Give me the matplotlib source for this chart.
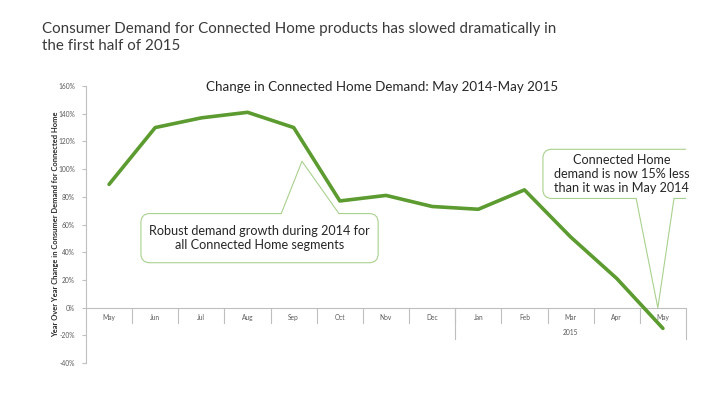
import matplotlib
matplotlib.use("Agg")
import matplotlib.pyplot as plt
from matplotlib.patches import FancyBboxPatch, Polygon
import numpy as np

months = ["May", "Jun", "Jul", "Aug", "Sep", "Oct", "Nov", "Dec",
          "Jan", "Feb", "Mar", "Apr", "May"]
demand_change = [89, 130, 137, 141, 130, 77, 81, 73, 71, 85, 51, 21, -15]
year_groups = [("", 0, 7), ("2015", 8, 12)]
yticks = [-40, -20, 0, 20, 40, 60, 80, 100, 120, 140, 160]

main_title = ["Consumer Demand for Connected Home products has slowed dramatically in",
              "the first half of 2015"]
chart_title = "Change in Connected Home Demand: May 2014-May 2015"
ylabel = "Year Over Year Change in Consumer Demand for Connected Home"
callout1 = "Robust demand growth during 2014 for\nall Connected Home segments"
callout2 = "Connected Home\ndemand is now 15% less\nthan it was in May 2014"

FONT = ["Lato", "DejaVu Sans"]
plt.rcParams["font.family"] = FONT

LINE = "#5b9b2f"
EDGE = "#a9d18e"
GRAY = "#bfbfbf"
TXT = "#595959"

W, H = 706, 397
fig = plt.figure(figsize=(W / 100, H / 100), dpi=100)
ax = fig.add_axes([86 / W, 1 - 363 / H, 600 / W, 277 / H])
renderer = fig.canvas.get_renderer()

x = np.arange(len(months))
ax.plot(x, demand_change, color=LINE, lw=2.6, solid_joinstyle="round",
        solid_capstyle="round", zorder=6, clip_on=False)

ax.set_xlim(-0.5, len(months) - 0.5)
ax.set_ylim(-40, 160)
ax.set_yticks(yticks)
ax.set_yticklabels([f"{v}%" for v in yticks], fontsize=4.8, color=TXT)
ax.tick_params(axis="y", length=3, width=0.8, color=GRAY, pad=5)
ax.set_xticks([])
for s in ["top", "right", "bottom"]:
    ax.spines[s].set_visible(False)
ax.spines["left"].set_color(GRAY)
ax.spines["left"].set_linewidth(0.8)

# category axis at 0
ax.axhline(0, color=GRAY, lw=0.8, zorder=2)
for i, m in enumerate(months):
    ax.text(i, -7.5, m, ha="center", va="center", fontsize=4.8, color=TXT)
for b in np.arange(0.5, len(months) - 0.5, 1.0):
    ax.plot([b, b], [0, -11], color=GRAY, lw=0.8, clip_on=False, zorder=2)
for name, a, bnd in year_groups:
    if name:
        ax.plot([a - 0.5, a - 0.5], [0, -22.7], color=GRAY, lw=0.8, clip_on=False)
        ax.plot([bnd + 0.5, bnd + 0.5], [0, -22.7], color=GRAY, lw=0.8, clip_on=False)
        ax.text((a + bnd) / 2, -18.3, name, ha="center", va="center",
                fontsize=4.8, color=TXT)

ax.set_ylabel(ylabel, fontsize=5.4, fontweight="bold", color="#262626", labelpad=4)
ax.yaxis.set_label_coords(-27 / 600, 0.5)

# main title: two lines, first line fitted to the reference width
t1 = fig.text(42 / W, 1 - 33.5 / H, main_title[0], fontsize=13, color="#3a3a3a",
              ha="left", va="baseline")
w = t1.get_window_extent(renderer).width
fs = 13 * 513 / w
t1.set_fontsize(fs)
fig.text(42 / W, 1 - 50.5 / H, main_title[1], fontsize=fs, color="#3a3a3a",
         ha="left", va="baseline")

fig.text(382 / W, 1 - 87 / H, chart_title, fontsize=9.6, color="#262626",
         ha="center", va="center")

# callouts (box in data units, wedge tip/base)
px_x = 600 / 13.0         # pixels per category
px_y = 277 / 200.0        # pixels per percent


def callout(x0, x1, y0, y1, tip, base, text, fs):
    r = 9
    box = FancyBboxPatch((x0, y0), x1 - x0, y1 - y0,
                         boxstyle=f"round,pad=0,rounding_size={r / px_x}",
                         mutation_aspect=px_x / px_y,
                         fc="white", ec=EDGE, lw=0.8, zorder=4)
    ax.add_patch(box)
    yb = base[2]
    inside = -1.5 if yb == y1 else 1.5
    poly = Polygon([(base[0], yb + inside), (base[0], yb), tip, (base[1], yb),
                    (base[1], yb + inside)], closed=True, fc="white", ec="none",
                   zorder=4.5, clip_on=False)
    ax.add_patch(poly)
    ax.plot([base[0], tip[0], base[1]], [yb, tip[1], yb], color=EDGE, lw=0.8,
            zorder=4.6, clip_on=False)
    ax.text((x0 + x1) / 2, (y0 + y1) / 2, text, ha="center", va="center",
            fontsize=fs, color="#262626", zorder=5, linespacing=1.2)


callout(0.69, 5.83, 32.4, 67.9, (4.18, 105.6), (3.73, 4.98, 67.9), callout1, 9.1)
callout(9.40, 12.80, 78.8, 114.3, (11.89, -0.2), (11.42, 12.24, 78.8), callout2, 9.1)

fig.savefig("out.png", dpi=100)
